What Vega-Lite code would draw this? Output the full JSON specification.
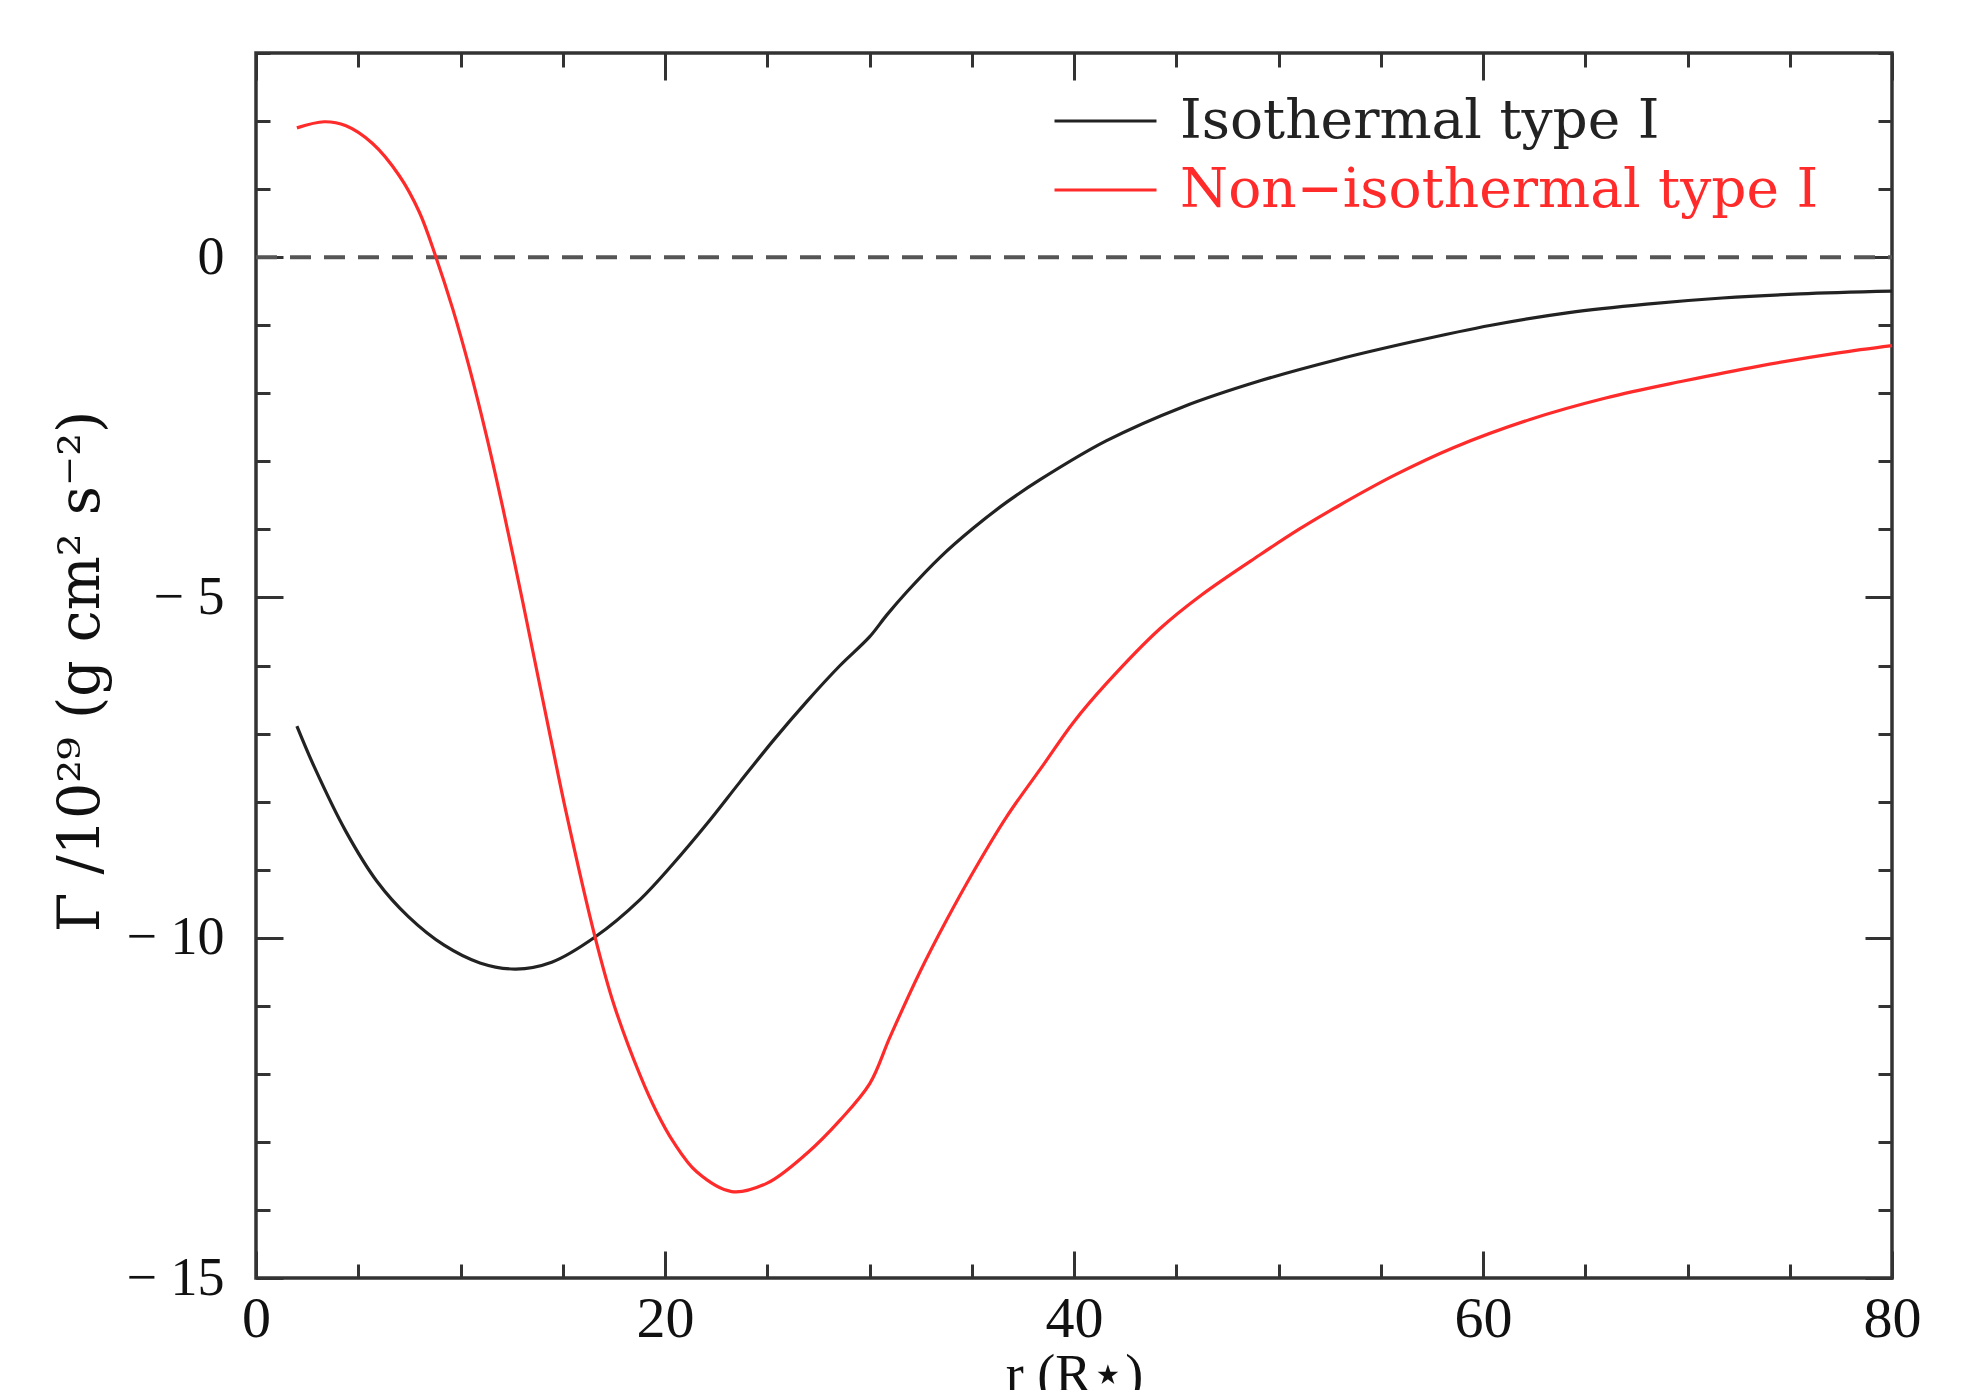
{
  "$schema": "https://vega.github.io/schema/vega-lite/v6.json",
  "width": 1636,
  "height": 1225,
  "autosize": {"type": "none"},
  "padding": {"left": 256, "top": 53, "right": 74, "bottom": 112},
  "background": "white",
  "config": {
    "view": {"stroke": "#333", "strokeWidth": 3.5},
    "axis": {"grid": false, "domain": false, "tickColor": "#333", "tickWidth": 3, "labelColor": "#111", "titleColor": "#111"}
  },
  "datasets": {
    "curves": [
      {"r": 2.0, "G": -6.89, "series": "Isothermal type I"},
      {"r": 2.85, "G": -7.49, "series": "Isothermal type I"},
      {"r": 4.38, "G": -8.43, "series": "Isothermal type I"},
      {"r": 5.91, "G": -9.17, "series": "Isothermal type I"},
      {"r": 7.45, "G": -9.69, "series": "Isothermal type I"},
      {"r": 9.2, "G": -10.11, "series": "Isothermal type I"},
      {"r": 10.95, "G": -10.37, "series": "Isothermal type I"},
      {"r": 12.7, "G": -10.46, "series": "Isothermal type I"},
      {"r": 14.46, "G": -10.36, "series": "Isothermal type I"},
      {"r": 16.58, "G": -9.99, "series": "Isothermal type I"},
      {"r": 18.78, "G": -9.44, "series": "Isothermal type I"},
      {"r": 20.41, "G": -8.91, "series": "Isothermal type I"},
      {"r": 22.04, "G": -8.33, "series": "Isothermal type I"},
      {"r": 23.67, "G": -7.71, "series": "Isothermal type I"},
      {"r": 25.3, "G": -7.1, "series": "Isothermal type I"},
      {"r": 26.93, "G": -6.53, "series": "Isothermal type I"},
      {"r": 28.56, "G": -6.0, "series": "Isothermal type I"},
      {"r": 30.0, "G": -5.58, "series": "Isothermal type I"},
      {"r": 30.84, "G": -5.26, "series": "Isothermal type I"},
      {"r": 31.82, "G": -4.92, "series": "Isothermal type I"},
      {"r": 33.45, "G": -4.41, "series": "Isothermal type I"},
      {"r": 35.08, "G": -3.98, "series": "Isothermal type I"},
      {"r": 36.71, "G": -3.6, "series": "Isothermal type I"},
      {"r": 38.34, "G": -3.27, "series": "Isothermal type I"},
      {"r": 41.57, "G": -2.7, "series": "Isothermal type I"},
      {"r": 45.32, "G": -2.2, "series": "Isothermal type I"},
      {"r": 49.06, "G": -1.82, "series": "Isothermal type I"},
      {"r": 52.8, "G": -1.51, "series": "Isothermal type I"},
      {"r": 56.6, "G": -1.24, "series": "Isothermal type I"},
      {"r": 60.4, "G": -1.0, "series": "Isothermal type I"},
      {"r": 64.2, "G": -0.815, "series": "Isothermal type I"},
      {"r": 68.0, "G": -0.69, "series": "Isothermal type I"},
      {"r": 71.7, "G": -0.6, "series": "Isothermal type I"},
      {"r": 75.5, "G": -0.54, "series": "Isothermal type I"},
      {"r": 80.0, "G": -0.5, "series": "Isothermal type I"},
      {"r": 2.0, "G": 1.9, "series": "Non−isothermal type I"},
      {"r": 3.34, "G": 1.99, "series": "Non−isothermal type I"},
      {"r": 4.4, "G": 1.93, "series": "Non−isothermal type I"},
      {"r": 5.7, "G": 1.67, "series": "Non−isothermal type I"},
      {"r": 7.0, "G": 1.2, "series": "Non−isothermal type I"},
      {"r": 7.99, "G": 0.66, "series": "Non−isothermal type I"},
      {"r": 8.8, "G": 0.0, "series": "Non−isothermal type I"},
      {"r": 9.62, "G": -0.76, "series": "Non−isothermal type I"},
      {"r": 10.43, "G": -1.62, "series": "Non−isothermal type I"},
      {"r": 11.25, "G": -2.6, "series": "Non−isothermal type I"},
      {"r": 12.06, "G": -3.67, "series": "Non−isothermal type I"},
      {"r": 13.04, "G": -5.06, "series": "Non−isothermal type I"},
      {"r": 13.85, "G": -6.25, "series": "Non−isothermal type I"},
      {"r": 14.5, "G": -7.2, "series": "Non−isothermal type I"},
      {"r": 15.11, "G": -8.08, "series": "Non−isothermal type I"},
      {"r": 16.58, "G": -9.99, "series": "Non−isothermal type I"},
      {"r": 17.5, "G": -10.98, "series": "Non−isothermal type I"},
      {"r": 18.78, "G": -12.02, "series": "Non−isothermal type I"},
      {"r": 19.59, "G": -12.56, "series": "Non−isothermal type I"},
      {"r": 20.41, "G": -13.0, "series": "Non−isothermal type I"},
      {"r": 21.55, "G": -13.44, "series": "Non−isothermal type I"},
      {"r": 23.26, "G": -13.73, "series": "Non−isothermal type I"},
      {"r": 24.97, "G": -13.61, "series": "Non−isothermal type I"},
      {"r": 26.93, "G": -13.17, "series": "Non−isothermal type I"},
      {"r": 28.56, "G": -12.68, "series": "Non−isothermal type I"},
      {"r": 30.02, "G": -12.14, "series": "Non−isothermal type I"},
      {"r": 31.0, "G": -11.46, "series": "Non−isothermal type I"},
      {"r": 32.47, "G": -10.5, "series": "Non−isothermal type I"},
      {"r": 33.77, "G": -9.74, "series": "Non−isothermal type I"},
      {"r": 35.08, "G": -9.03, "series": "Non−isothermal type I"},
      {"r": 36.71, "G": -8.22, "series": "Non−isothermal type I"},
      {"r": 38.5, "G": -7.46, "series": "Non−isothermal type I"},
      {"r": 39.96, "G": -6.84, "series": "Non−isothermal type I"},
      {"r": 41.6, "G": -6.26, "series": "Non−isothermal type I"},
      {"r": 44.2, "G": -5.46, "series": "Non−isothermal type I"},
      {"r": 46.25, "G": -4.96, "series": "Non−isothermal type I"},
      {"r": 49.06, "G": -4.38, "series": "Non−isothermal type I"},
      {"r": 51.05, "G": -3.99, "series": "Non−isothermal type I"},
      {"r": 52.9, "G": -3.66, "series": "Non−isothermal type I"},
      {"r": 55.7, "G": -3.2, "series": "Non−isothermal type I"},
      {"r": 58.55, "G": -2.8, "series": "Non−isothermal type I"},
      {"r": 62.3, "G": -2.385, "series": "Non−isothermal type I"},
      {"r": 66.0, "G": -2.07, "series": "Non−isothermal type I"},
      {"r": 69.8, "G": -1.82, "series": "Non−isothermal type I"},
      {"r": 73.5, "G": -1.6, "series": "Non−isothermal type I"},
      {"r": 77.3, "G": -1.41, "series": "Non−isothermal type I"},
      {"r": 80.0, "G": -1.3, "series": "Non−isothermal type I"}
    ],
    "zero": [{"r": 0, "G": 0}, {"r": 80, "G": 0}]
  },
  "layer": [
    {
      "data": {"name": "zero"},
      "mark": {"type": "line", "color": "#555", "strokeWidth": 4, "strokeDash": [21, 13]},
      "encoding": {
        "x": {"field": "r", "type": "quantitative", "scale": {"domain": [0, 80], "nice": false, "zero": false},
          "axis": {"orient": "bottom", "values": [0, 20, 40, 60, 80], "tickSize": -27, "labels": false, "title": null}},
        "y": {"field": "G", "type": "quantitative", "scale": {"domain": [-15, 3], "nice": false, "zero": false},
          "axis": {"orient": "left", "values": [-15, -10, -5, 0], "tickSize": -27, "labels": false, "title": null}}
      }
    },
    {
      "data": {"name": "curves"},
      "mark": {"type": "line", "interpolate": "catmull-rom", "strokeWidth": 3.2},
      "encoding": {
        "x": {"field": "r", "type": "quantitative", "scale": {"domain": [0, 80], "nice": false, "zero": false},
          "axis": {"orient": "bottom", "values": [0, 20, 40, 60, 80], "ticks": false, "tickSize": 0, "labelFlush": false, "labelOverlap": false,
            "labelFont": "Liberation Serif", "labelFontSize": 58, "labelPadding": 12,
            "title": "r (R⋆)", "titleFont": "Liberation Serif", "titleFontSize": 54, "titleFontWeight": "normal",
            "titleX": 818, "titleY": 113, "titleAlign": "center", "titleBaseline": "alphabetic"}},
        "y": {"field": "G", "type": "quantitative", "scale": {"domain": [-15, 3], "nice": false, "zero": false},
          "axis": {"orient": "left", "values": [-15, -10, -5, 0], "ticks": false, "tickSize": 0, "labelOverlap": false,
            "labelExpr": "datum.value < 0 ? '− ' + abs(datum.value) : datum.label",
            "labelFont": "Liberation Serif", "labelFontSize": 54, "labelPadding": 32,
            "title": "Γ /10²⁹ (g cm² s⁻²)", "titleFont": "DejaVu Serif", "titleFontSize": 57, "titleFontWeight": "normal",
            "titleAngle": -90, "titleX": -158, "titleY": 618, "titleAlign": "center", "titleBaseline": "alphabetic"}},
        "color": {"field": "series", "type": "nominal",
          "scale": {"domain": ["Isothermal type I", "Non−isothermal type I"], "range": ["#222222", "#ff2a2a"]},
          "legend": {"orient": "none", "legendX": 797, "legendY": 36, "title": null, "padding": 0,
            "symbolType": "stroke", "symbolSize": 10400, "symbolStrokeWidth": 3,
            "labelFont": "DejaVu Serif", "labelFontSize": 55, "labelOffset": 22, "labelLimit": 2000,
            "clipHeight": 64, "rowPadding": 5,
            "encode": {"labels": {"update": {"fill": {"scale": "color", "field": "value"}}}}}}
      }
    },
    {
      "data": {"name": "zero"},
      "mark": {"type": "point", "opacity": 0},
      "encoding": {
        "x": {"field": "r", "type": "quantitative", "scale": {"domain": [0, 80], "nice": false, "zero": false},
          "axis": {"orient": "bottom", "values": [0, 5, 10, 15, 20, 25, 30, 35, 40, 45, 50, 55, 60, 65, 70, 75, 80], "tickSize": -14, "labels": false, "title": null}},
        "y": {"field": "G", "type": "quantitative", "scale": {"domain": [-15, 3], "nice": false, "zero": false},
          "axis": {"orient": "left", "values": [-15, -14, -13, -12, -11, -10, -9, -8, -7, -6, -5, -4, -3, -2, -1, 0, 1, 2, 3], "tickSize": -14, "labels": false, "title": null}}
      }
    },
    {
      "data": {"name": "zero"},
      "mark": {"type": "point", "opacity": 0},
      "encoding": {
        "x": {"field": "r", "type": "quantitative", "scale": {"domain": [0, 80], "nice": false, "zero": false},
          "axis": {"orient": "top", "values": [0, 20, 40, 60, 80], "tickSize": -27, "labels": false, "title": null}},
        "y": {"field": "G", "type": "quantitative", "scale": {"domain": [-15, 3], "nice": false, "zero": false},
          "axis": {"orient": "right", "values": [-15, -10, -5, 0], "tickSize": -27, "labels": false, "title": null}}
      }
    },
    {
      "data": {"name": "zero"},
      "mark": {"type": "point", "opacity": 0},
      "encoding": {
        "x": {"field": "r", "type": "quantitative", "scale": {"domain": [0, 80], "nice": false, "zero": false},
          "axis": {"orient": "top", "values": [0, 5, 10, 15, 20, 25, 30, 35, 40, 45, 50, 55, 60, 65, 70, 75, 80], "tickSize": -14, "labels": false, "title": null}},
        "y": {"field": "G", "type": "quantitative", "scale": {"domain": [-15, 3], "nice": false, "zero": false},
          "axis": {"orient": "right", "values": [-15, -14, -13, -12, -11, -10, -9, -8, -7, -6, -5, -4, -3, -2, -1, 0, 1, 2, 3], "tickSize": -14, "labels": false, "title": null}}
      }
    }
  ],
  "resolve": {"axis": {"x": "independent", "y": "independent"}}
}
